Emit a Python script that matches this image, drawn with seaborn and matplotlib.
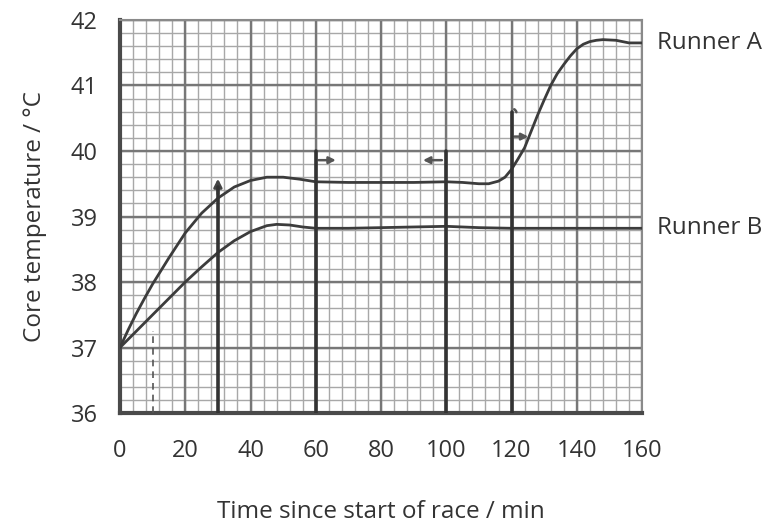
import numpy as np
import pandas as pd
import matplotlib
matplotlib.use("Agg")
import matplotlib.pyplot as plt
import seaborn as sns

# values
time_a = [0, 2.5, 5, 7.5, 10, 15, 20, 25, 30, 35, 40, 45, 50, 55, 60, 70, 80, 90, 100,
          105, 110, 113, 116, 118, 120, 122, 124, 126, 128, 130, 132, 134, 136, 138,
          140, 142, 144, 146, 148, 152, 156, 160]
temp_a = [37.0, 37.27, 37.52, 37.75, 37.97, 38.37, 38.75, 39.05, 39.28, 39.45, 39.55,
          39.6, 39.6, 39.57, 39.53, 39.52, 39.52, 39.52, 39.53, 39.52, 39.5, 39.5,
          39.54, 39.6, 39.72, 39.88, 40.05, 40.3, 40.55, 40.78, 41.0, 41.18, 41.32,
          41.45, 41.56, 41.63, 41.67, 41.69, 41.7, 41.69, 41.65, 41.65]
time_b = [0, 5, 10, 15, 20, 25, 30, 35, 40, 45, 48, 52, 56, 60, 70, 80, 90, 100,
          110, 120, 140, 160]
temp_b = [37.0, 37.25, 37.5, 37.75, 38.0, 38.23, 38.45, 38.63, 38.77, 38.86, 38.88,
          38.87, 38.84, 38.82, 38.82, 38.83, 38.84, 38.85, 38.83, 38.82, 38.82, 38.82]

# hand-drawn marks on the graph
mark_x = [30, 60, 100, 120]
mark_top = [39.45, 40.0, 40.0, 40.6]

df = pd.concat([
    pd.DataFrame({"time": time_a, "temp": temp_a, "runner": "Runner A"}),
    pd.DataFrame({"time": time_b, "temp": temp_b, "runner": "Runner B"}),
])

sns.set_style("white")
plt.rcParams["font.family"] = ["Open Sans", "DejaVu Sans"]

fig = plt.figure(figsize=(7.66, 5.26), dpi=100)
ax = fig.add_axes([0.1567, 0.2148, 0.6815, 0.7472])

# graph paper
for v in np.arange(0, 161, 4):
    ax.axvline(v, color="#a8a8a8", lw=1.0, zorder=0)
for v in np.arange(36, 42.01, 0.2):
    ax.axhline(v, color="#a8a8a8", lw=1.0, zorder=0)
for v in np.arange(0, 161, 20):
    ax.axvline(v, color="#777777", lw=1.7, zorder=0)
for v in np.arange(36, 43, 1):
    ax.axhline(v, color="#777777", lw=1.7, zorder=0)

sns.lineplot(data=df, x="time", y="temp", hue="runner", palette=["#3c3c3c", "#3c3c3c"],
             linewidth=2.0, legend=False, ax=ax, zorder=3)

for x, top in zip(mark_x, mark_top):
    ax.plot([x, x], [36, top], color="#333333", lw=2.6, zorder=4)
ax.annotate("", xy=(30, 39.62), xytext=(30, 39.3),
            arrowprops=dict(arrowstyle="-|>", color="#444444", lw=2, mutation_scale=12))
ax.annotate("", xy=(67, 39.86), xytext=(60, 39.86),
            arrowprops=dict(arrowstyle="-|>", color="#555555", lw=1.8, mutation_scale=10))
ax.annotate("", xy=(92, 39.86), xytext=(99.5, 39.86),
            arrowprops=dict(arrowstyle="-|>", color="#555555", lw=1.8, mutation_scale=10))
ax.annotate("", xy=(126, 40.22), xytext=(120, 40.22),
            arrowprops=dict(arrowstyle="-|>", color="#555555", lw=1.8, mutation_scale=10))
ax.annotate("", xy=(121.5, 40.55), xytext=(120, 40.65),
            arrowprops=dict(arrowstyle="-", color="#555555", lw=1.8,
                            connectionstyle="arc3,rad=-0.5"))
ax.plot([10, 10], [36, 37.25], color="#555555", lw=1.2, ls=(0, (4, 3)), zorder=4)

ax.set_xlim(0, 160)
ax.set_ylim(36, 42)
ax.set_xticks(range(0, 161, 20))
ax.set_yticks(range(36, 43))
ax.tick_params(axis="both", labelsize=17, colors="#333333", length=12, width=1.2)
ax.tick_params(axis="x", pad=7)
ax.tick_params(axis="y", pad=4)
for lbl in ax.get_xticklabels() + ax.get_yticklabels():
    lbl.set_color("#333333")

for side in ["left", "bottom"]:
    ax.spines[side].set_color("#4a4a4a")
    ax.spines[side].set_linewidth(3)
for side in ["top", "right"]:
    ax.spines[side].set_color("#8a8a8a")
    ax.spines[side].set_linewidth(1.5)

ax.set_xlabel("Time since start of race / min", fontsize=17.5, color="#333333", labelpad=26)
ax.set_ylabel("Core temperature / °C", fontsize=17.5, color="#333333", labelpad=17)

ax.text(1.028, 41.65, "Runner A", transform=ax.get_yaxis_transform(), fontsize=17.5,
        color="#333333", va="center", ha="left")
ax.text(1.028, 38.82, "Runner B", transform=ax.get_yaxis_transform(), fontsize=17.5,
        color="#333333", va="center", ha="left")

fig.savefig("out.png", dpi=100)
